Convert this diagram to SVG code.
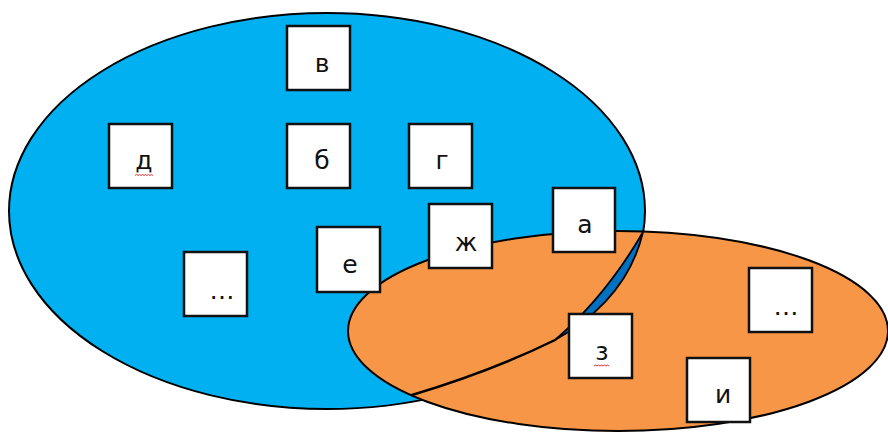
<svg xmlns="http://www.w3.org/2000/svg" width="888" height="432" viewBox="0 0 888 432">
<style>
.set{stroke:#000;stroke-width:2}
.box rect{fill:#fff;stroke:#111;stroke-width:2.5}
.box text{font-family:"DejaVu Sans","Liberation Sans",sans-serif;font-size:25px;fill:#111;text-anchor:middle}
.sq{fill:none;stroke:#e03030;stroke-width:1}
</style>
<rect width="888" height="432" fill="#fff"/>
<g id="setA"><ellipse class="set" cx="327" cy="211" rx="318" ry="198" fill="#00B0F0"/></g>
<g id="setB"><ellipse class="set" cx="618" cy="331" rx="270" ry="100" fill="#F79646"/></g>
<g id="connectors">
<path d="M555,340 Q492,371 412,395" fill="none" stroke="#000" stroke-width="2.5" stroke-linecap="round"/>
<path d="M643,232 Q627,300 555,340 Q606,296 643,232 Z" fill="#0070C0" stroke="#000" stroke-width="1.8" stroke-linejoin="round"/>
</g>
<g id="n-v" class="box"><rect x="287" y="26" width="63" height="64"/><text x="322" y="72">в</text></g>
<g id="n-d" class="box"><rect x="109" y="124" width="63" height="64"/><text x="144" y="169">д</text><path class="sq" d="M135,175.5 l1.5,-1 1.5,1 1.5,-1 1.5,1 1.5,-1 1.5,1 1.5,-1 1.5,1 1.5,-1 1.5,1 1.5,-1 1.5,1"/></g>
<g id="n-b" class="box"><rect x="287" y="124" width="63" height="64"/><text x="322" y="169">б</text></g>
<g id="n-g" class="box"><rect x="409" y="124" width="63" height="64"/><text x="442" y="169">г</text></g>
<g id="n-zh" class="box"><rect x="429" y="204" width="63" height="64"/><text x="466" y="251">ж</text></g>
<g id="n-a" class="box"><rect x="553" y="188" width="62" height="64"/><text x="585" y="233">а</text></g>
<g id="n-e" class="box"><rect x="317" y="227" width="63" height="65"/><text x="350" y="273">е</text></g>
<g id="n-dots1" class="box"><rect x="184" y="252" width="63" height="64"/><text x="222" y="299">…</text></g>
<g id="n-z" class="box"><rect x="569" y="314" width="63" height="64"/><text x="602" y="360">з</text><path class="sq" d="M594,366 l1.5,-1 1.5,1 1.5,-1 1.5,1 1.5,-1 1.5,1 1.5,-1 1.5,1 1.5,-1 1.5,1"/></g>
<g id="n-dots2" class="box"><rect x="749" y="268" width="63" height="64"/><text x="786" y="315">…</text></g>
<g id="n-i" class="box"><rect x="687" y="358" width="63" height="64"/><text x="723" y="403">и</text></g>
</svg>
